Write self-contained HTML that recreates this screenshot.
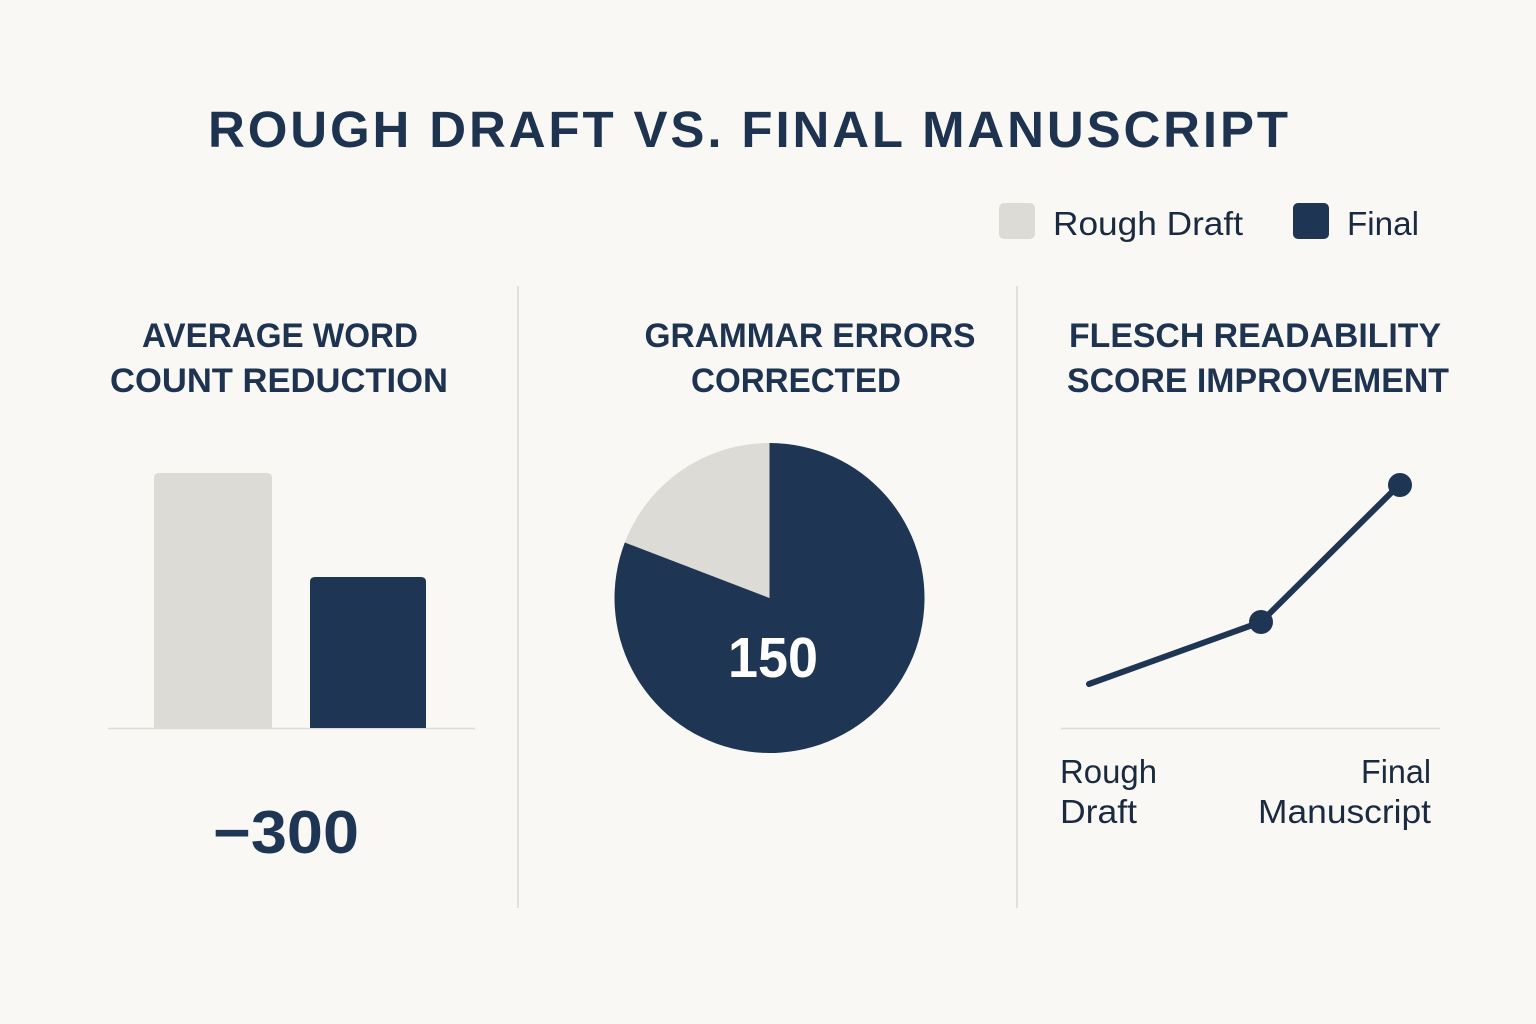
<!DOCTYPE html>
<html>
<head>
<meta charset="utf-8">
<style>
  html, body { margin: 0; padding: 0; background: #f9f8f5; }
  body { width: 1536px; height: 1024px; overflow: hidden; }
  svg { display: block; }
  text { font-family: "Liberation Sans", "DejaVu Sans", sans-serif; }
</style>
</head>
<body>
<svg width="1536" height="1024" viewBox="0 0 1536 1024" xmlns="http://www.w3.org/2000/svg">
  <rect x="0" y="0" width="1536" height="1024" fill="#f9f8f5"/>

  <!-- Main title -->
  <text x="748" y="147" text-anchor="middle" font-size="51" font-weight="bold" fill="#1d3350" textLength="1080" lengthAdjust="spacing">ROUGH DRAFT VS. FINAL MANUSCRIPT</text>

  <!-- Legend -->
  <rect x="999" y="203" width="36" height="36" rx="5" fill="#dddbd6"/>
  <text x="1053" y="235" font-size="33" fill="#1a2a40" textLength="190" lengthAdjust="spacingAndGlyphs">Rough Draft</text>
  <rect x="1293" y="203" width="36" height="36" rx="5" fill="#1e3553"/>
  <text x="1347" y="235" font-size="33" fill="#1a2a40" textLength="72" lengthAdjust="spacingAndGlyphs">Final</text>

  <!-- Dividers -->
  <line x1="518" y1="286" x2="518" y2="908" stroke="#d9d8d4" stroke-width="1.5"/>
  <line x1="1017" y1="286" x2="1017" y2="908" stroke="#d9d8d4" stroke-width="1.5"/>

  <!-- Section titles -->
  <g font-size="34" font-weight="bold" fill="#1d3350">
    <text x="280" y="347" text-anchor="middle" textLength="276" lengthAdjust="spacingAndGlyphs">AVERAGE WORD</text>
    <text x="279" y="392" text-anchor="middle" textLength="338" lengthAdjust="spacingAndGlyphs">COUNT REDUCTION</text>
    <text x="810" y="347" text-anchor="middle" textLength="331" lengthAdjust="spacingAndGlyphs">GRAMMAR ERRORS</text>
    <text x="796" y="392" text-anchor="middle" textLength="210" lengthAdjust="spacingAndGlyphs">CORRECTED</text>
    <text x="1255" y="347" text-anchor="middle" textLength="372" lengthAdjust="spacingAndGlyphs">FLESCH READABILITY</text>
    <text x="1258" y="392" text-anchor="middle" textLength="382" lengthAdjust="spacingAndGlyphs">SCORE IMPROVEMENT</text>
  </g>

  <!-- Bar chart -->
  <line x1="108" y1="728.5" x2="475" y2="728.5" stroke="#dcdbd7" stroke-width="1.5"/>
  <path d="M154,728 L154,478 Q154,473 159,473 L267,473 Q272,473 272,478 L272,728 Z" fill="#dddbd6"/>
  <path d="M310,728 L310,582 Q310,577 315,577 L421,577 Q426,577 426,582 L426,728 Z" fill="#1e3553"/>
  <text x="286" y="853" text-anchor="middle" font-size="60" font-weight="bold" fill="#1e3553" textLength="146" lengthAdjust="spacingAndGlyphs">−300</text>

  <!-- Pie chart -->
  <path d="M769.5,598 L769.5,443 A155,155 0 0 0 624.8,542.5 Z" fill="#dddbd6"/>
  <path d="M769.5,598 L624.8,542.5 A155,155 0 1 0 769.5,443 Z" fill="#1e3553"/>
  <text x="773" y="677" text-anchor="middle" font-size="57" font-weight="bold" fill="#ffffff" textLength="90" lengthAdjust="spacingAndGlyphs">150</text>

  <!-- Line chart -->
  <line x1="1061" y1="728.5" x2="1440" y2="728.5" stroke="#dcdbd7" stroke-width="1.5"/>
  <polyline points="1089,684 1261,622 1400,484" fill="none" stroke="#1e3553" stroke-width="6" stroke-linecap="round" stroke-linejoin="round"/>
  <circle cx="1261" cy="622" r="12" fill="#1e3553"/>
  <circle cx="1400" cy="485" r="12" fill="#1e3553"/>

  <g font-size="33" fill="#1a2a40">
    <text x="1060" y="783" textLength="97" lengthAdjust="spacingAndGlyphs">Rough</text>
    <text x="1060" y="823" textLength="77" lengthAdjust="spacingAndGlyphs">Draft</text>
    <text x="1431" y="783" text-anchor="end" textLength="70" lengthAdjust="spacingAndGlyphs">Final</text>
    <text x="1431" y="823" text-anchor="end" textLength="173" lengthAdjust="spacingAndGlyphs">Manuscript</text>
  </g>
</svg>
</body>
</html>
